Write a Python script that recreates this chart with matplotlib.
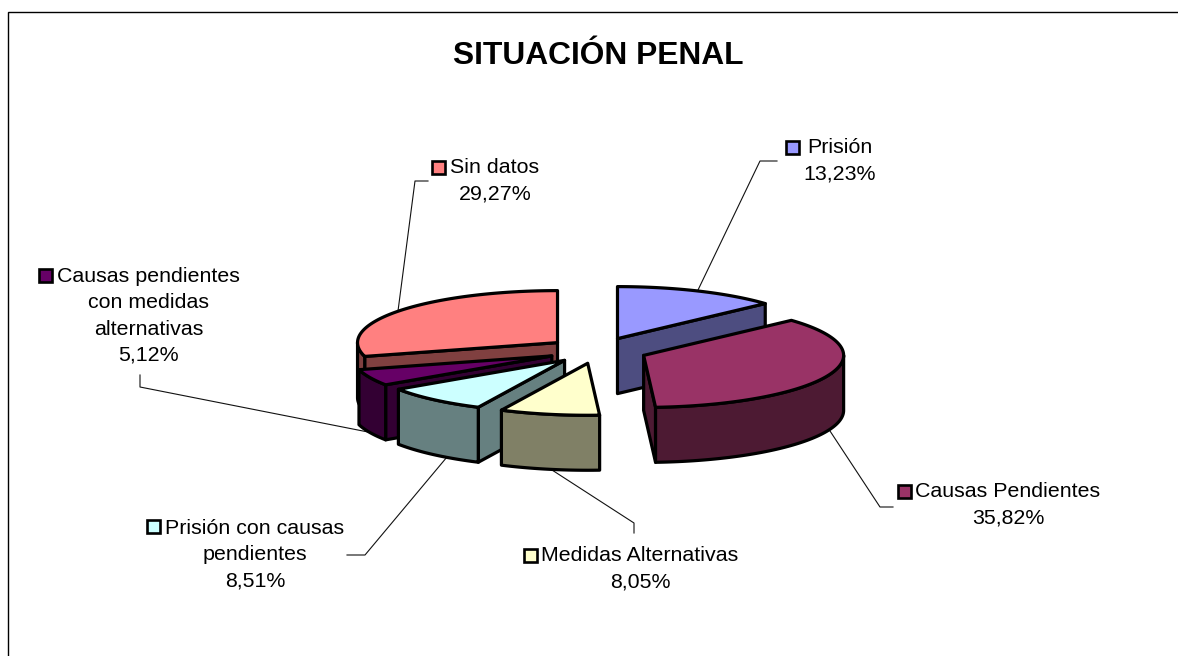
import numpy as np
import matplotlib
matplotlib.use("Agg")
import matplotlib.pyplot as plt
from matplotlib.patches import Polygon, Rectangle

plt.rcParams['font.family'] = ['Liberation Sans', 'DejaVu Sans']

# ---- data ----
title = "SITUACIÓN PENAL"
categories = ["Prisión", "Causas Pendientes", "Medidas Alternativas",
              "Prisión con causas\npendientes",
              "Causas pendientes\ncon medidas\nalternativas", "Sin datos"]
values = [13.23, 35.82, 8.05, 8.51, 5.12, 29.27]
top_colors = ["#9999FF", "#993366", "#FFFFCC", "#CCFFFF", "#660066", "#FF8080"]
side_colors = ["#4D4D80", "#4D1A33", "#808066", "#668080", "#330033", "#804040"]

# ---- layout (pixels of the 1178x656 canvas) ----
W, H = 1178, 656
CX, CY = 597.3, 350.5  # pie centre
RX, RY = 200, 52       # projected radii
DEPTH = 55             # extrusion
EXPLODE = 0.25
draw_order = [0, 5, 4, 3, 1, 2]
label_centres = [(840, 161), (1008, 505), (640, 569), (255, 555), (148.5, 316), (495, 181)]
key_centres = [(792, 147), (904, 491), (530, 555), (153, 526), (45, 275), (438, 167)]
leaders = [
    [(777, 161), (760, 161), (698, 290)],
    [(893, 507), (880, 507), (830, 431)],
    [(634, 533), (634, 523), (552, 470)],
    [(347, 555), (365, 555), (447, 457)],
    [(140, 375), (140, 387), (368, 432)],
    [(428, 181), (415, 181), (398, 311)],
]

fig = plt.figure(figsize=(W / 100, H / 100), dpi=100)
ax = fig.add_axes([0, 0, 1, 1])
ax.set_xlim(0, W)
ax.set_ylim(H, 0)
ax.axis("off")

# chart frame: top and left only are inside the canvas
ax.plot([8, 8, W], [H, 12, 12], color="black", lw=1.0, solid_joinstyle="miter", zorder=1)

ax.text(598.5, 56, title, ha="center", va="center", fontsize=22.9, fontweight="bold", color="black")

fractions = np.array(values) / sum(values)
edges = np.concatenate([[0], np.cumsum(fractions)]) * 2 * np.pi


def point(ox, oy, t):
    return ox + RX * np.sin(t), oy - RY * np.cos(t)


EDGE = dict(edgecolor="black", linewidth=2.3, joinstyle="round")
for leader in leaders:
    xs, ys = zip(*leader)
    ax.plot(xs, ys, color="#111111", lw=0.8, zorder=1.5)

z = 2
for i in draw_order:
    a0, a1 = edges[i], edges[i + 1]
    mid = (a0 + a1) / 2
    ox, oy = point(CX, CY, mid)
    ox = CX + EXPLODE * (ox - CX)
    oy = CY + EXPLODE * (oy - CY)

    def face(t):
        px, py = point(ox, oy, t)
        return Polygon([(ox, oy), (px, py), (px, py + DEPTH), (ox, oy + DEPTH)],
                       closed=True, facecolor=side_colors[i], zorder=z, **EDGE)

    # radial cut faces seen by the viewer
    if np.sin(a0) < -1e-6:
        ax.add_patch(face(a0))
    if np.sin(a1) > 1e-6:
        ax.add_patch(face(a1))
    # outer wall (only the front half of the rim)
    lo, hi = max(a0, np.pi / 2), min(a1, 3 * np.pi / 2)
    if hi > lo:
        t = np.linspace(lo, hi, 80)
        px, py = point(ox, oy, t)
        pts = np.r_[np.c_[px, py], np.c_[px[::-1], py[::-1] + DEPTH]]
        ax.add_patch(Polygon(pts, closed=True, facecolor=side_colors[i], zorder=z, **EDGE))
    # top surface
    t = np.linspace(a0, a1, 120)
    px, py = point(ox, oy, t)
    pts = np.r_[[(ox, oy)], np.c_[px, py]]
    ax.add_patch(Polygon(pts, closed=True, facecolor=top_colors[i], zorder=z, **EDGE))
    z += 1

for name, val, top, (lx, ly), (kx, ky) in zip(categories, values, top_colors, label_centres, key_centres):
    txt = f"{name}\n{val:.2f}%".replace(".", ",")
    ax.text(lx, ly, txt, ha="center", va="center", fontsize=15.4, linespacing=1.47,
            color="black", zorder=20)
    ax.add_patch(Rectangle((kx - 6.5, ky - 6.5), 13, 13, facecolor=top, edgecolor="black",
                           linewidth=1.9, zorder=20))

fig.savefig("out.png", dpi=100, facecolor="white")
